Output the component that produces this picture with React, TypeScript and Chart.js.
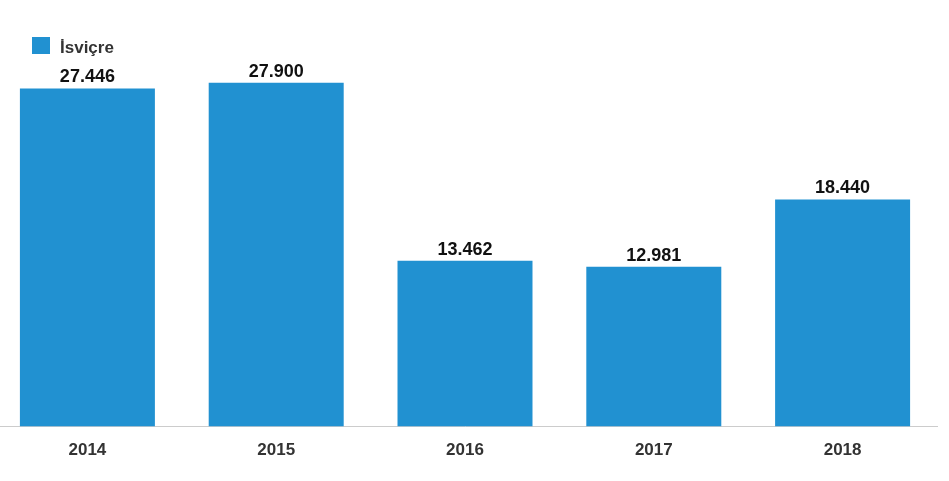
import React, { useEffect, useRef } from "react";
import { Chart, registerables } from "chart.js";

Chart.register(...registerables);

const categories = ["2014", "2015", "2016", "2017", "2018"];
const seriesName = "İsviçre";
const values = [27446, 27900, 13462, 12981, 18440];
const barColor = "#2191d1";

function fmt(v: number): string {
  return String(Math.round(v)).replace(/\B(?=(\d{3})+(?!\d))/g, ".");
}

const labelPlugin = {
  id: "customLabels",
  afterDatasetsDraw(chart: any) {
    const ctx = chart.ctx;
    const meta = chart.getDatasetMeta(0);
    ctx.save();
    ctx.font = "bold 18px 'Liberation Sans', Arial, sans-serif";
    ctx.fillStyle = "#111";
    ctx.textAlign = "center";
    ctx.textBaseline = "alphabetic";
    meta.data.forEach((bar: any, i: number) => {
      ctx.fillText(fmt(values[i]), bar.x, bar.y - 6);
    });
    // legend
    ctx.fillStyle = barColor;
    ctx.fillRect(39, 37, 18, 17);
    ctx.fillStyle = "#333";
    ctx.textAlign = "left";
    ctx.font = "bold 17px 'Liberation Sans', Arial, sans-serif";
    ctx.fillText(seriesName, 67, 53);
    ctx.restore();
  },
};

export default function App() {
  const ref = useRef<HTMLCanvasElement | null>(null);
  useEffect(() => {
    if (!ref.current) return;
    const chart = new Chart(ref.current, {
      type: "bar",
      data: {
        labels: categories,
        datasets: [
          {
            label: seriesName,
            data: values,
            backgroundColor: barColor,
            borderWidth: 0,
            barPercentage: 0.715,
            categoryPercentage: 1,
          },
        ],
      },
      options: {
        animation: false,
        responsive: true,
        maintainAspectRatio: false,
        layout: { padding: { top: 57, right: 12, left: 0, bottom: 6 } },
        plugins: { legend: { display: false }, tooltip: { enabled: false } },
        scales: {
          x: {
            grid: { display: false, drawTicks: false },
            border: { display: true, color: "#cccccc", width: 1 },
            ticks: {
              padding: 14,
              color: "#333",
              font: { size: 17, weight: "bold", family: "'Liberation Sans', Arial, sans-serif" },
            },
          },
          y: {
            display: false,
            min: 0,
            max: 30000,
          },
        },
      },
      plugins: [labelPlugin],
    });
    return () => chart.destroy();
  }, []);
  return (
    <div style={{ position: "absolute", left: -7, top: 0, width: 956, height: 481 }}>
      <canvas ref={ref} />
    </div>
  );
}
